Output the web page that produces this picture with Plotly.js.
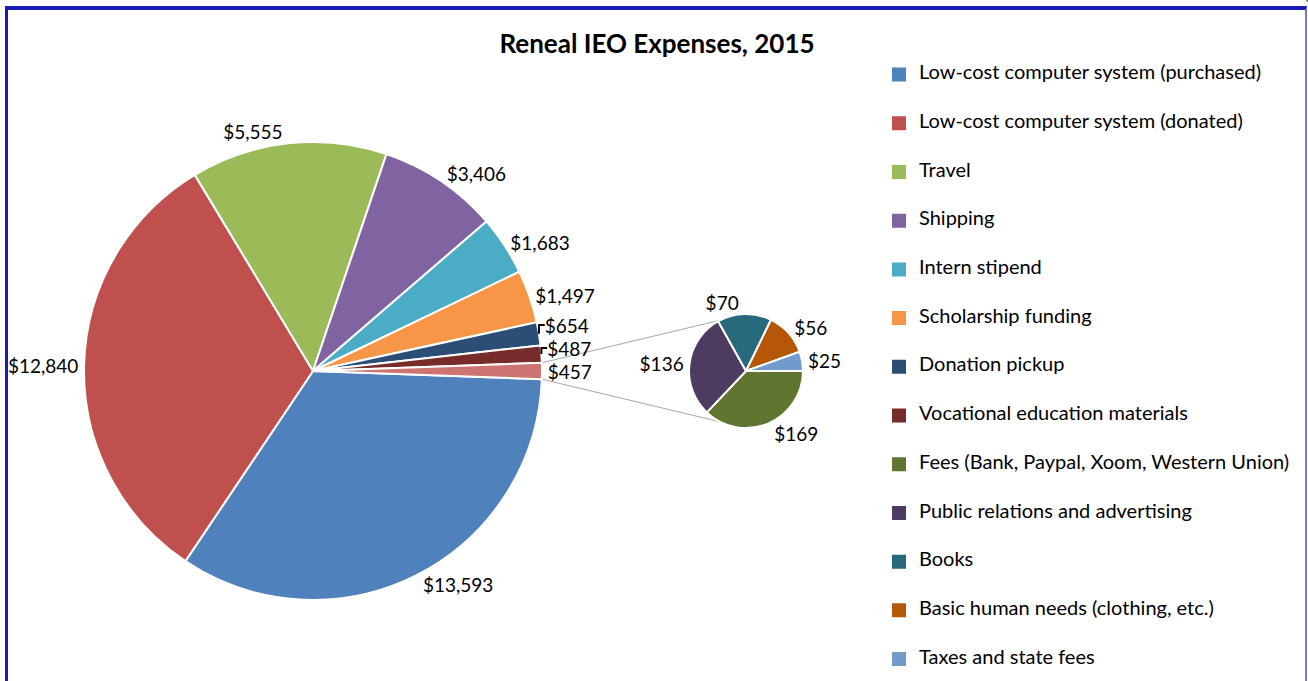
<!DOCTYPE html>
<html><head><meta charset="utf-8">
<script src="https://cdn.plot.ly/plotly-3.0.1.min.js"></script>
<style>
html,body{margin:0;padding:0;background:#fff;overflow:hidden;width:1308px;height:681px}
#wrap{position:relative;width:1308px;height:681px;overflow:hidden}
#chart{width:1308px;height:700px;position:absolute;left:0;top:0}
#frame{position:absolute;left:5px;top:6px;width:1302px;height:690px;border-top:4px solid #1a1ab4;border-left:3px solid #1a1ab4;border-right:2px solid #7a7ad6;pointer-events:none;box-sizing:border-box}
</style></head><body>
<div id="wrap"><div id="chart"></div><div id="frame"></div></div>
<script>
const chartTitle = 'Reneal IEO Expenses, 2015';
const mainLabels = ['Low-cost computer system (purchased)', 'Low-cost computer system (donated)', 'Travel', 'Shipping', 'Intern stipend', 'Scholarship funding', 'Donation pickup', 'Vocational education materials', 'Other'];
const mainValues = [13593, 12840, 5555, 3406, 1683, 1497, 654, 487, 457];
const mainColors = ['#4F81BD', '#C0504D', '#9BBB59', '#8064A2', '#4BACC6', '#F79646', '#2C4D75', '#772C2A', '#CD7371'];
const subLabels = ['Fees (Bank, Paypal, Xoom, Western Union)', 'Public relations and advertising', 'Books', 'Basic human needs (clothing, etc.)', 'Taxes and state fees'];
const subValues = [169, 136, 70, 56, 25];
const subColors = ['#5F7530', '#4D3B62', '#276A7C', '#B65708', '#729ACA'];

// the chart is taller than the window; its bottom edge is cropped like the reference
const W = 1308, H = 700;
const FONT = 'Lato, "Open Sans", sans-serif';
const mainDomain = {x: [84 / W, 542 / W], y: [1 - 600 / H, 1 - 142 / H]};
const subDomain = {x: [689 / W, 803 / W], y: [1 - 428 / H, 1 - 314 / H]};
const connectorAngle = 63; // degrees from horizontal on the small pie

const mainTotal = mainValues.reduce((a, b) => a + b, 0);
const otherHalf = mainValues[mainValues.length - 1] / mainTotal * 180;

const legendLabels = mainLabels.slice(0, 8).concat(subLabels);
const legendColors = mainColors.slice(0, 8).concat(subColors);
const legendValues = mainValues.slice(0, 8).concat(subValues);
const labelSize = 19;
const legendTextSize = 20;
const legendBase = 11.72;

const mainPie = {
  type: 'pie', name: 'main', labels: mainLabels, values: mainValues,
  marker: {colors: mainColors, line: {color: '#ffffff', width: 2}},
  sort: false, direction: 'clockwise', rotation: 90 + otherHalf,
  textposition: 'outside', texttemplate: '$%{value:,}',
  textfont: {family: FONT, size: labelSize, color: '#000'},
  domain: mainDomain, showlegend: false,
  hovertemplate: '%{label}: $%{value:,}<extra></extra>'
};
const subPie = {
  type: 'pie', name: 'sub', labels: subLabels, values: subValues,
  marker: {colors: subColors, line: {color: '#ffffff', width: 2}},
  sort: false, direction: 'clockwise', rotation: 90,
  textposition: 'outside', texttemplate: '$%{value:,}',
  textfont: {family: FONT, size: labelSize, color: '#000'},
  domain: subDomain, showlegend: false,
  hovertemplate: '%{label}: $%{value:,}<extra></extra>'
};
const legendPie = {
  type: 'pie', name: 'legend',
  labels: legendLabels.map(l => ' <br><span style="font-size:' + legendTextSize + 'px">' + l + '</span><br> '),
  values: legendValues,
  marker: {colors: legendColors, line: {color: legendColors, width: 2}},
  sort: false, textinfo: 'none', hoverinfo: 'skip',
  domain: {x: [0.9995, 1], y: [0.9995, 1]}, showlegend: true
};

function geom(d) {
  const w = (d.x[1] - d.x[0]) * W, h = (d.y[1] - d.y[0]) * H;
  return {cx: (d.x[0] + d.x[1]) / 2 * W, cy: (1 - (d.y[0] + d.y[1]) / 2) * H, r: Math.min(w, h) / 2};
}
const gm = geom(mainDomain), gs = geom(subDomain);
const ha = otherHalf * Math.PI / 180, ca = connectorAngle * Math.PI / 180;
const p1 = [gm.cx + gm.r * Math.cos(ha), gm.cy - gm.r * Math.sin(ha)];
const p2 = [gm.cx + gm.r * Math.cos(ha), gm.cy + gm.r * Math.sin(ha)];
const q1 = [gs.cx - gs.r * Math.cos(ca), gs.cy - gs.r * Math.sin(ca)];
const q2 = [gs.cx - gs.r * Math.cos(ca), gs.cy + gs.r * Math.sin(ca)];
const toPaper = p => [p[0] / W, 1 - p[1] / H];
function lineShape(a, b) {
  const A = toPaper(a), B = toPaper(b);
  return {type: 'line', xref: 'paper', yref: 'paper', x0: A[0], y0: A[1], x1: B[0], y1: B[1],
          line: {color: '#A6A6A6', width: 1}, layer: 'below'};
}

const layout = {
  width: W, height: H, margin: {l: 0, r: 0, t: 0, b: 0},
  paper_bgcolor: '#ffffff', plot_bgcolor: '#ffffff',
  font: {family: FONT, color: '#000'},
  title: {text: '<b>' + chartTitle + '</b>', x: 657 / W, xanchor: 'center', y: 1 - 44 / H, yanchor: 'middle',
          font: {family: FONT, size: 26, color: '#000'}},
  legend: {x: 879 / W, xanchor: 'left', y: 1 - 45.2 / H, yanchor: 'top', bgcolor: 'rgba(0,0,0,0)',
           font: {family: FONT, size: legendBase, color: '#000'}, traceorder: 'normal'},
  shapes: [lineShape(p1, q1), lineShape(p2, q2)]
};

Plotly.newPlot('chart', [mainPie, subPie, legendPie], layout, {displayModeBar: false, staticPlot: true});
</script>
</body></html>
